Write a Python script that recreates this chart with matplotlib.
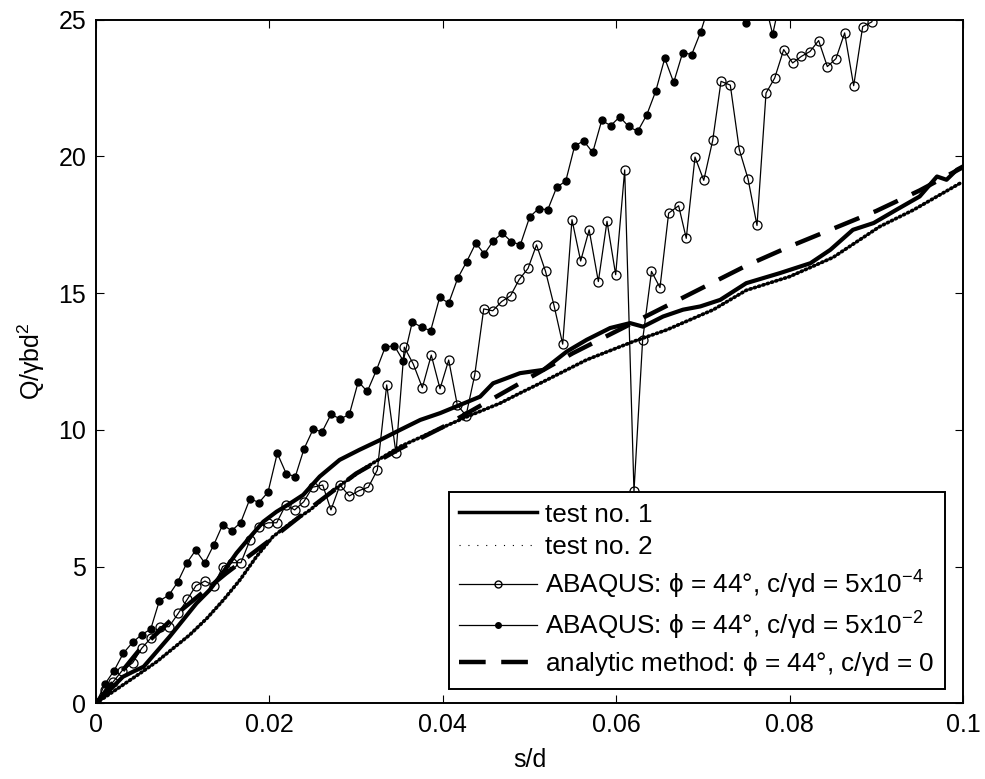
import matplotlib
matplotlib.use('Agg')
import matplotlib.pyplot as plt
from matplotlib.lines import Line2D

plt.rcParams['font.family'] = ['Liberation Sans', 'DejaVu Sans']
plt.rcParams['mathtext.fontset'] = 'custom'
plt.rcParams['mathtext.rm'] = 'Liberation Sans'
plt.rcParams['mathtext.it'] = 'Liberation Sans'
plt.rcParams['mathtext.bf'] = 'Liberation Sans:bold'

# ---------------- data ----------------
test1_x = [0, 0.0016, 0.0031, 0.0043, 0.0055, 0.007, 0.0085, 0.0101, 0.0116, 0.0131,
           0.0147, 0.0162, 0.0178, 0.0193, 0.0208, 0.0224, 0.0239, 0.0258, 0.0281, 0.0304,
           0.0328, 0.0351, 0.0374, 0.0397, 0.042, 0.0443, 0.0458, 0.0474, 0.0489, 0.0516,
           0.0543, 0.0566, 0.0593, 0.0616, 0.0631, 0.0654, 0.0677, 0.0697, 0.072, 0.075,
           0.0789, 0.0824, 0.0847, 0.0873, 0.0897, 0.0923, 0.095, 0.097, 0.0981, 0.0993, 0.1]
test1_y = [0, 0.49, 0.97, 1.16, 1.34, 1.89, 2.44, 3.07, 3.66, 4.14,
           4.81, 5.49, 6.09, 6.64, 7.0, 7.31, 7.62, 8.29, 8.9, 9.27,
           9.63, 10.0, 10.36, 10.61, 10.91, 11.21, 11.7, 11.89, 12.07, 12.19,
           12.86, 13.29, 13.72, 13.9, 13.77, 14.14, 14.39, 14.51, 14.75, 15.36,
           15.73, 16.09, 16.58, 17.31, 17.56, 18.04, 18.53, 19.26, 19.14, 19.51, 19.63]

test2_x = [0, 0.0031, 0.0051, 0.007, 0.0089, 0.0108, 0.0128, 0.0147, 0.0166, 0.0185,
           0.0204, 0.0224, 0.0247, 0.0274, 0.031, 0.0351, 0.039, 0.0428, 0.0466, 0.0489,
           0.0516, 0.0566, 0.062, 0.0658, 0.0712, 0.075, 0.08, 0.085, 0.0904, 0.0943, 0.0997]
test2_y = [0, 0.67, 1.1, 1.52, 2.01, 2.5, 3.11, 3.78, 4.51, 5.36,
           6.09, 6.58, 7.07, 7.8, 8.6, 9.39, 9.95, 10.48, 10.97, 11.34,
           11.76, 12.56, 13.23, 13.65, 14.39, 15.1, 15.6, 16.3, 17.43, 18.04, 19.02]

abq4_x = [0, 0.00104, 0.0020, 0.0030, 0.00423, 0.00527, 0.00631, 0.00738, 0.00842, 0.00949,
          0.01053, 0.01153, 0.01257, 0.01361, 0.01461, 0.01569, 0.01672, 0.01776, 0.0188, 0.01984,
          0.02084, 0.02188, 0.02292, 0.02396, 0.02498, 0.02615, 0.0271, 0.02814, 0.02922, 0.03037,
          0.03141, 0.03245, 0.03353, 0.0346, 0.03556, 0.0366, 0.03764, 0.03867, 0.03968, 0.04068,
          0.04167, 0.04268, 0.04368, 0.04472, 0.04576, 0.04679, 0.04781, 0.04882, 0.04983, 0.05081,
          0.05185, 0.05283, 0.05383, 0.0549, 0.0559, 0.05688, 0.05794, 0.05894, 0.05994, 0.06098,
          0.06205, 0.06305, 0.06407, 0.06505, 0.06605, 0.0672, 0.06808, 0.06909, 0.0701, 0.07113,
          0.07209, 0.07316, 0.0742, 0.0752, 0.07624, 0.07728, 0.07828, 0.07932, 0.08035, 0.08135,
          0.08235, 0.08335, 0.08435, 0.08535, 0.08635, 0.08739, 0.08843, 0.08947, 0.0905]
abq4_y = [0, 0.5, 0.79, 1.19, 1.48, 2.01, 2.38, 2.8, 2.8, 3.29,
          3.8, 4.3, 4.47, 4.29, 5.0, 5.14, 5.14, 5.97, 6.46, 6.6,
          6.6, 7.25, 7.07, 7.37, 7.9, 7.98, 7.07, 7.98, 7.58, 7.78,
          7.9, 8.53, 11.64, 9.14, 13.02, 12.4, 11.54, 12.73, 11.5, 12.55,
          10.91, 10.52, 12.0, 14.42, 14.35, 14.69, 14.9, 15.5, 15.9, 16.76,
          15.79, 14.54, 13.13, 17.68, 16.17, 17.31, 15.42, 17.62, 15.67, 19.5,
          7.75, 13.29, 15.79, 15.2, 17.92, 18.19, 17.0, 19.97, 19.12, 20.58,
          22.74, 22.6, 20.24, 19.18, 17.47, 22.31, 22.86, 23.9, 23.41, 23.65,
          23.83, 24.23, 23.28, 23.57, 24.51, 22.58, 24.74, 24.91, 25.6]

abq2_x = [0, 0.00104, 0.00208, 0.00315, 0.00423, 0.00527, 0.00631, 0.0073, 0.00842, 0.00942,
          0.01046, 0.0115, 0.01254, 0.01358, 0.01461, 0.01565, 0.01669, 0.01776, 0.0188, 0.01984,
          0.02091, 0.02195, 0.02299, 0.02399, 0.02506, 0.02607, 0.0271, 0.02818, 0.02922, 0.03025,
          0.03129, 0.03233, 0.03337, 0.03441, 0.03544, 0.03648, 0.03757, 0.0386, 0.03964, 0.04068,
          0.04172, 0.04276, 0.0438, 0.04479, 0.04583, 0.04686, 0.0479, 0.04894, 0.05002, 0.05106,
          0.0521, 0.05314, 0.05418, 0.05521, 0.05625, 0.05729, 0.05833, 0.05937, 0.0604, 0.06144,
          0.06248, 0.06352, 0.06456, 0.0656, 0.06663, 0.06767, 0.06871, 0.06975, 0.07079, 0.07183,
          0.07287, 0.07391, 0.07494, 0.07597, 0.07701, 0.07805, 0.0791, 0.0801]
abq2_y = [0, 0.71, 1.19, 1.83, 2.23, 2.51, 2.71, 3.74, 3.96, 4.43,
          5.12, 5.6, 5.13, 5.79, 6.53, 6.31, 6.61, 7.48, 7.34, 7.72,
          9.14, 8.39, 8.29, 9.3, 10.03, 9.92, 10.56, 10.4, 10.56, 11.76,
          11.4, 12.17, 13.03, 13.07, 12.52, 13.94, 13.75, 13.62, 14.84, 14.63,
          15.54, 16.15, 16.82, 16.43, 16.91, 17.19, 16.88, 16.76, 17.78, 18.09,
          18.04, 18.87, 19.09, 20.38, 20.56, 20.14, 21.31, 21.12, 21.44, 21.09,
          20.91, 21.51, 22.38, 23.58, 22.7, 23.79, 23.72, 24.55, 25.6, 25.9,
          25.4, 25.7, 24.87, 25.5, 25.8, 24.46, 26.0, 26.5]

anal_x = [0, 0.005, 0.01, 0.015, 0.02, 0.025, 0.03, 0.035, 0.04, 0.045, 0.05,
          0.055, 0.06, 0.065, 0.07, 0.075, 0.08, 0.085, 0.09, 0.095, 0.1]
anal_y = [0, 1.95, 3.45, 4.75, 5.95, 7.2, 8.4, 9.3, 10.1, 11.0, 11.9,
          12.8, 13.6, 14.4, 15.2, 16.0, 16.7, 17.35, 18.0, 18.75, 19.6]

labels = ['test no. 1', 'test no. 2',
          r'ABAQUS: $\phi$ = 44°, c/$\gamma$d = 5x10$^{-4}$',
          r'ABAQUS: $\phi$ = 44°, c/$\gamma$d = 5x10$^{-2}$',
          r'analytic method: $\phi$ = 44°, c/$\gamma$d = 0']
xticks = [0, 0.02, 0.04, 0.06, 0.08, 0.1]
xticklabels = ['0', '0.02', '0.04', '0.06', '0.08', '0.1']
yticks = [0, 5, 10, 15, 20, 25]

FS = 18
LFS = 18.8

# ---------------- figure ----------------
fig = plt.figure(figsize=(9.85, 7.79), dpi=100)
ax = fig.add_axes([96/985, 1 - 703.3/779, 867/985, 683.8/779])

ax.plot(test1_x, test1_y, color='k', lw=3.0, solid_joinstyle='round')
ax.plot(test2_x, test2_y, color='k', lw=2.6, linestyle=(0, (0.35, 0.9)),
        dash_capstyle='round')
ax.plot(abq4_x, abq4_y, color='k', lw=0.9, marker='o', ms=6.5, mfc='none',
        mec='k', mew=0.9)
ax.plot(abq2_x, abq2_y, color='k', lw=0.9, marker='o', ms=5, mfc='k', mec='k')
ax.plot(anal_x, anal_y, color='k', lw=3.2, linestyle=(0, (6, 3.5)))

ax.set_xlim(0, 0.1)
ax.set_ylim(0, 25)
ax.set_xticks(xticks)
ax.set_xticklabels(xticklabels)
ax.set_yticks(yticks)
ax.tick_params(direction='in', length=6, width=0.8, labelsize=FS,
               top=True, right=True, pad=7)
for s in ax.spines.values():
    s.set_linewidth(1.4)

ax.set_xlabel('s/d', fontsize=FS, labelpad=8)
ax.set_ylabel(r'Q/$\gamma$bd$^2$', fontsize=FS, labelpad=8)

handles = [
    Line2D([], [], color='k', lw=2.5),
    Line2D([], [], color='k', lw=0.8, linestyle=(0, (1, 7))),
    Line2D([], [], color='k', lw=0.9, marker='o', ms=5, mfc='none', mec='k'),
    Line2D([], [], color='k', lw=0.9, marker='o', ms=4, mfc='k', mec='k'),
    Line2D([], [], color='k', lw=3.2, linestyle=(0, (6, 3.5))),
]
leg = ax.legend(handles, labels, loc='lower right', bbox_to_anchor=(0.979, 0.021),
                fontsize=LFS, handlelength=3.0, handletextpad=0.3,
                labelspacing=0.34, borderpad=0.4, borderaxespad=0.0,
                fancybox=False, framealpha=1, edgecolor='k')
leg.get_frame().set_linewidth(1.4)

fig.savefig('out.png', dpi=100)
